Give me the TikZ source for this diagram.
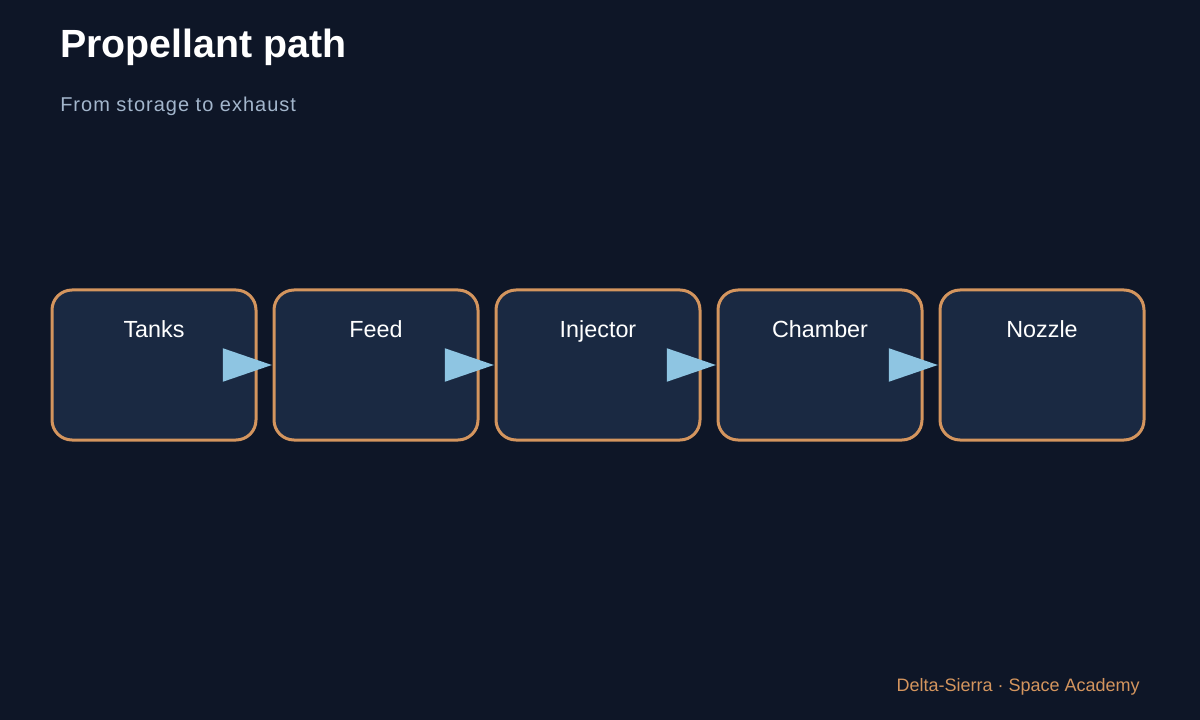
\documentclass[tikz,border=0pt]{standalone}
\usepackage{fontspec}
\setmainfont{Liberation Sans}
\usetikzlibrary{arrows.meta}
\definecolor{bgc}{HTML}{0E1627}
\definecolor{boxfill}{HTML}{1A2942}
\definecolor{boxline}{HTML}{D4955E}
\definecolor{arrowc}{HTML}{8EC5E2}
\definecolor{subc}{HTML}{A3B6CC}
\definecolor{footc}{HTML}{D4955E}
\begin{document}
\begin{tikzpicture}[x=0.75pt,y=-0.75pt,
  stagebox/.style={draw=boxline, fill=boxfill, line width=2.25pt, rounded corners=15pt,
    minimum width=153pt, minimum height=112.5pt, inner sep=0pt},
  stagelabel/.style={anchor=base, text=white, font=\fontsize{17.5}{20}\selectfont},
  flow/.style={draw=arrowc, line width=1.5pt, shorten >=0.5pt,
    -{Triangle[length=36.75pt, width=24.75pt]}}]
\fill[bgc] (0,0) rectangle (1200,720);
\useasboundingbox (0,0) rectangle (1200,720);
\node[anchor=base west, text=white, font=\fontsize{29.5}{34}\selectfont\bfseries, inner sep=0pt] (title) at (60,58) {Propellant path};
\node[anchor=base west, text=subc, font=\fontsize{15}{18}\selectfont\addfontfeature{LetterSpace=5}, inner sep=0pt] (sub) at (60,112) {From storage to exhaust};
\foreach \n/\x/\t in {b1/154/Tanks, b2/376/Feed, b3/598/Injector, b4/820/Chamber, b5/1042/Nozzle}{
  \node[stagebox] (\n) at (\x,365) {};
  \node[stagelabel] (\n l) at (\x,338) {\t};
}
\foreach \a/\b in {b1/b2, b2/b3, b3/b4, b4/b5}{
  \draw[flow] (\a.east) -- (\b.west);
}
\node[anchor=base east, text=footc, font=\fontsize{13.5}{16}\selectfont, inner sep=0pt] (foot) at (1140,691) {Delta-Sierra · Space Academy};
\end{tikzpicture}
\end{document}
